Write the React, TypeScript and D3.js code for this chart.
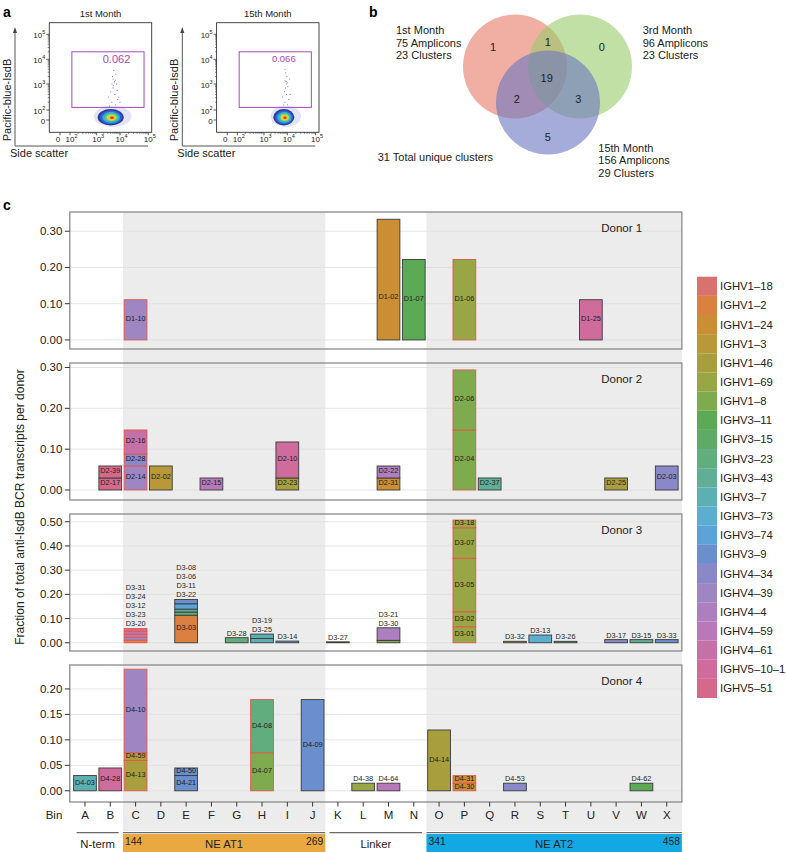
import React from "react";
import * as d3 from "d3";

// ---------------- DATA ----------------
const bins = "ABCDEFGHIJKLMNOPQRSTUVWX".split("");

const genes = [
  "IGHV1-18", "IGHV1-2", "IGHV1-24", "IGHV1-3", "IGHV1-46", "IGHV1-69", "IGHV1-8",
  "IGHV3-11", "IGHV3-15", "IGHV3-23", "IGHV3-43", "IGHV3-7", "IGHV3-73", "IGHV3-74",
  "IGHV3-9", "IGHV4-34", "IGHV4-39", "IGHV4-4", "IGHV4-59", "IGHV4-61", "IGHV5-10-1", "IGHV5-51",
];
const geneColors = [
  "#d9716f", "#da8040", "#ca8e35", "#b9983a", "#a99e3d", "#98a646", "#7eab4e",
  "#5caa56", "#5dab66", "#61ad7d", "#61ae96", "#5db0b2", "#5baed0", "#5ca3d8",
  "#6a8fcc", "#8a88c8", "#9d86c2", "#ad7fbf", "#b978b9", "#c670a8", "#cf6c9c", "#d4698a",
];

type Seg = { bin: string; id: string; gene: string; value: number; red?: boolean; above?: boolean; labelAt?: number };

const donor1: Seg[] = [
  { bin: "C", id: "D1-10", gene: "IGHV4-39", value: 0.111, red: true },
  { bin: "M", id: "D1-02", gene: "IGHV1-24", value: 0.333, labelAt: 0.116 },
  { bin: "N", id: "D1-07", gene: "IGHV3-11", value: 0.222 },
  { bin: "P", id: "D1-06", gene: "IGHV1-69", value: 0.222, red: true },
  { bin: "U", id: "D1-25", gene: "IGHV5-10-1", value: 0.111 },
];

const donor2: Seg[] = [
  { bin: "B", id: "D2-17", gene: "IGHV5-51", value: 0.0294 },
  { bin: "B", id: "D2-39", gene: "IGHV5-51", value: 0.0294 },
  { bin: "C", id: "D2-14", gene: "IGHV4-39", value: 0.0588, red: true },
  { bin: "C", id: "D2-28", gene: "IGHV4-34", value: 0.0294, red: true },
  { bin: "C", id: "D2-16", gene: "IGHV4-61", value: 0.0588, red: true },
  { bin: "D", id: "D2-02", gene: "IGHV1-3", value: 0.0588 },
  { bin: "F", id: "D2-15", gene: "IGHV4-59", value: 0.0294 },
  { bin: "I", id: "D2-23", gene: "IGHV1-46", value: 0.0294 },
  { bin: "I", id: "D2-10", gene: "IGHV5-10-1", value: 0.0882 },
  { bin: "M", id: "D2-31", gene: "IGHV1-24", value: 0.0294 },
  { bin: "M", id: "D2-22", gene: "IGHV4-4", value: 0.0294 },
  { bin: "P", id: "D2-04", gene: "IGHV1-8", value: 0.147, red: true },
  { bin: "P", id: "D2-06", gene: "IGHV1-8", value: 0.147, red: true },
  { bin: "Q", id: "D2-37", gene: "IGHV3-43", value: 0.0294 },
  { bin: "V", id: "D2-25", gene: "IGHV1-46", value: 0.0294 },
  { bin: "X", id: "D2-03", gene: "IGHV4-34", value: 0.0588 },
];

const donor3: Seg[] = [
  { bin: "C", id: "D3-20", gene: "IGHV1-2", value: 0.011, red: true, above: true },
  { bin: "C", id: "D3-23", gene: "IGHV4-39", value: 0.012, red: true, above: true },
  { bin: "C", id: "D3-12", gene: "IGHV4-4", value: 0.012, red: true, above: true },
  { bin: "C", id: "D3-24", gene: "IGHV4-61", value: 0.012, red: true, above: true },
  { bin: "C", id: "D3-31", gene: "IGHV5-51", value: 0.012, red: true, above: true },
  { bin: "E", id: "D3-03", gene: "IGHV1-2", value: 0.114 },
  { bin: "E", id: "D3-22", gene: "IGHV3-23", value: 0.013, above: true },
  { bin: "E", id: "D3-11", gene: "IGHV3-43", value: 0.012, above: true },
  { bin: "E", id: "D3-06", gene: "IGHV3-74", value: 0.022, above: true },
  { bin: "E", id: "D3-08", gene: "IGHV3-9", value: 0.018, above: true },
  { bin: "G", id: "D3-28", gene: "IGHV3-23", value: 0.021, above: true },
  { bin: "H", id: "D3-25", gene: "IGHV3-7", value: 0.018, above: true },
  { bin: "H", id: "D3-19", gene: "IGHV3-7", value: 0.018, above: true },
  { bin: "I", id: "D3-14", gene: "IGHV3-9", value: 0.007, above: true },
  { bin: "K", id: "D3-27", gene: "IGHV1-46", value: 0.004, above: true },
  { bin: "M", id: "D3-30", gene: "IGHV1-8", value: 0.010, above: true },
  { bin: "M", id: "D3-21", gene: "IGHV4-4", value: 0.052, above: true },
  { bin: "P", id: "D3-01", gene: "IGHV1-69", value: 0.066, red: true },
  { bin: "P", id: "D3-02", gene: "IGHV1-69", value: 0.062, red: true },
  { bin: "P", id: "D3-05", gene: "IGHV1-69", value: 0.221, red: true },
  { bin: "P", id: "D3-07", gene: "IGHV1-69", value: 0.126, red: true },
  { bin: "P", id: "D3-18", gene: "IGHV1-69", value: 0.032, red: true },
  { bin: "R", id: "D3-32", gene: "IGHV1-24", value: 0.006, above: true },
  { bin: "S", id: "D3-13", gene: "IGHV3-73", value: 0.032, above: true },
  { bin: "T", id: "D3-26", gene: "IGHV3-15", value: 0.006, above: true },
  { bin: "V", id: "D3-17", gene: "IGHV4-34", value: 0.013, above: true },
  { bin: "W", id: "D3-15", gene: "IGHV3-43", value: 0.013, above: true },
  { bin: "X", id: "D3-33", gene: "IGHV3-9", value: 0.013, above: true },
];

const donor4: Seg[] = [
  { bin: "A", id: "D4-03", gene: "IGHV3-7", value: 0.0299 },
  { bin: "B", id: "D4-28", gene: "IGHV5-10-1", value: 0.0448 },
  { bin: "C", id: "D4-13", gene: "IGHV1-46", value: 0.0597, red: true },
  { bin: "C", id: "D4-59", gene: "IGHV1-3", value: 0.0149, red: true },
  { bin: "C", id: "D4-10", gene: "IGHV4-39", value: 0.1642, red: true },
  { bin: "E", id: "D4-21", gene: "IGHV3-9", value: 0.0299 },
  { bin: "E", id: "D4-50", gene: "IGHV3-9", value: 0.0149 },
  { bin: "H", id: "D4-07", gene: "IGHV1-8", value: 0.0746, red: true },
  { bin: "H", id: "D4-08", gene: "IGHV3-23", value: 0.1045, red: true },
  { bin: "J", id: "D4-09", gene: "IGHV3-9", value: 0.1791 },
  { bin: "L", id: "D4-38", gene: "IGHV1-69", value: 0.0149, above: true },
  { bin: "M", id: "D4-64", gene: "IGHV4-59", value: 0.0149, above: true },
  { bin: "O", id: "D4-14", gene: "IGHV1-46", value: 0.1194 },
  { bin: "P", id: "D4-30", gene: "IGHV1-24", value: 0.0149, red: true },
  { bin: "P", id: "D4-31", gene: "IGHV1-24", value: 0.0149, red: true },
  { bin: "R", id: "D4-53", gene: "IGHV4-34", value: 0.0149, above: true },
  { bin: "W", id: "D4-62", gene: "IGHV3-11", value: 0.0149, above: true },
];

const donors = [donor1, donor2, donor3, donor4];
const donorNames = ["Donor 1", "Donor 2", "Donor 3", "Donor 4"];
const donorDomains: [number, number][] = [[-0.025, 0.353], [-0.0245, 0.311], [-0.034, 0.532], [-0.022, 0.247]];
const donorTicks = [[0, 0.1, 0.2, 0.3], [0, 0.1, 0.2, 0.3], [0, 0.1, 0.2, 0.3, 0.4, 0.5], [0, 0.05, 0.1, 0.15, 0.2]];

const shadedRanges: [string, string][] = [["C", "J"], ["O", "X"]];

const domains = [
  { label: "N-term", from: "A", to: "B", color: "", start: "", end: "" },
  { label: "NE AT1", from: "C", to: "J", color: "#e9a940", start: "144", end: "269" },
  { label: "Linker", from: "K", to: "N", color: "", start: "", end: "" },
  { label: "NE AT2", from: "O", to: "X", color: "#12a8e4", start: "341", end: "458" },
];

// Venn
const vennSets = [
  { name: "1st Month", amplicons: 75, clusters: 23 },
  { name: "3rd Month", amplicons: 96, clusters: 23 },
  { name: "15th Month", amplicons: 156, clusters: 29 },
];
const vennCounts = { a: 1, ab: 1, b: 0, abc: 19, ac: 2, bc: 3, c: 5 };
const totalUnique = 31;

// Flow cytometry
const flowTitles = ["1st Month", "15th Month"];
const flowGates = ["0.062", "0.066"];
const flowBlobCenters: [number, number][] = [[3.6, 0.55], [3.85, 0.55]];
const flowEvents1: [number, number][] = [
  [3.7, 3.2], [3.75, 3.05], [3.8, 3.15], [3.72, 2.95], [3.68, 3.3], [3.85, 3.0], [3.6, 2.7], [3.78, 2.6],
  [3.9, 2.4], [3.65, 2.3], [3.8, 2.2], [3.95, 2.5], [3.7, 2.85], [3.82, 3.4], [3.5, 2.5], [4.0, 2.3],
  [3.88, 2.75], [3.73, 3.55], [3.76, 3.1], [3.66, 3.0], [4.1, 2.1], [3.55, 2.15],
];
const flowEvents2: [number, number][] = [
  [3.95, 3.1], [4.0, 3.05], [3.9, 3.15], [3.98, 3.3], [3.93, 3.45], [4.02, 2.9], [3.88, 2.7], [3.97, 2.6],
  [4.05, 2.4], [3.9, 2.3], [3.85, 2.2], [4.0, 2.2], [3.92, 2.85], [4.08, 3.2], [3.8, 2.5], [4.1, 2.6],
  [3.96, 3.0], [3.9, 3.6],
];
const flowEvents = [flowEvents1, flowEvents2];

// ---------------- LAYOUT ----------------
const FONT = "'Liberation Sans', Arial, Helvetica, sans-serif";
const W = 786, H = 852;
const plotL = 69.8, plotR = 681.9;
const panelTops = [212, 363, 514, 665];
const panelH = 137;
const shadeTop = 212, shadeBottom = 831;

const xPoint = d3.scalePoint<string>().domain(bins).range([plotL, plotR]).padding(0.6);
const step = xPoint.step();
const barW = step * 0.9;
const colorScale = d3.scaleOrdinal<string, string>().domain(genes).range(geneColors);

function stackDonor(segs: Seg[]) {
  const cum: Record<string, number> = {};
  return segs.map((s) => {
    const y0 = cum[s.bin] || 0;
    const y1 = y0 + s.value;
    cum[s.bin] = y1;
    return { ...s, y0, y1 };
  });
}

function DonorPanel({ idx }: { idx: number }) {
  const top = panelTops[idx];
  const y = d3.scaleLinear().domain(donorDomains[idx]).range([top + panelH, top]);
  const stacked = stackDonor(donors[idx]);
  const totals: Record<string, number> = {};
  stacked.forEach((s) => (totals[s.bin] = Math.max(totals[s.bin] || 0, s.y1)));
  const aboveCount: Record<string, number> = {};
  const fmt = d3.format(".2f");
  return (
    <g>
      {donorTicks[idx].map((t) => (
        <line key={"g" + t} x1={plotL} x2={plotR} y1={y(t)} y2={y(t)} stroke="#dedede" strokeWidth={0.8} />
      ))}
      {stacked.map((s) => {
        const cx = xPoint(s.bin)!;
        return (
          <rect key={s.id} x={cx - barW / 2} width={barW} y={y(s.y1)} height={Math.max(0.6, y(s.y0) - y(s.y1))}
            fill={colorScale(s.gene)} stroke={s.red ? "#e0584c" : "#3a3a3a"} strokeWidth={0.9} />
        );
      })}
      {stacked.map((s) => {
        const cx = xPoint(s.bin)!;
        let ly: number;
        if (s.above) {
          const k = aboveCount[s.bin] || 0;
          aboveCount[s.bin] = k + 1;
          ly = y(totals[s.bin]) - 4.5 - k * 9.2;
        } else {
          const v = s.labelAt !== undefined ? s.labelAt : (s.y0 + s.y1) / 2;
          ly = y(v) - 1;
        }
        return (
          <text key={"t" + s.id} x={cx} y={ly} fontSize={7.3} textAnchor="middle" dominantBaseline="central" fill="#1e1e1e">
            {s.id}
          </text>
        );
      })}
      <rect x={plotL} y={top} width={plotR - plotL} height={panelH} fill="none" stroke="#8a8a8a" strokeWidth={1.3} />
      {donorTicks[idx].map((t) => (
        <g key={"t" + t}>
          <line x1={plotL - 5} x2={plotL} y1={y(t)} y2={y(t)} stroke="#333" strokeWidth={1} />
          <text x={plotL - 7.5} y={y(t)} fontSize={11.5} textAnchor="end" dominantBaseline="central" fill="#222">
            {fmt(t)}
          </text>
        </g>
      ))}
      <text x={621.7} y={top + 16} fontSize={11.5} textAnchor="middle" dominantBaseline="central" fill="#222">
        {donorNames[idx]}
      </text>
    </g>
  );
}

function FlowPlot({ i }: { i: number }) {
  const ox = i * 167.3;
  const xs = d3.scaleLinear().domain([0, 2, 3, 4, 5]).range([60, 70, 96.7, 120, 148.3].map((v) => v + ox));
  const ys = d3.scaleLinear().domain([0, 2, 3, 4, 5]).range([120, 110, 84, 59.3, 34.3]);
  const fl = 49.3 + ox, fr = 151.7 + ox, ft = 22.7, fb = 132.3;
  const majors = [0, 2, 3, 4, 5];
  const minors: number[] = [];
  [2, 3, 4].forEach((d) => { for (let k = 2; k <= 9; k++) minors.push(d + Math.log10(k)); });
  const [bx, by] = flowBlobCenters[i];
  const cx = xs(bx), cy = ys(by);
  const rx = i === 0 ? 13 : 10.5, ry = 8.2;
  const layers: [number, string][] = [
    [1.0, "#2c3c9c"], [0.84, "#2f63d2"], [0.68, "#34a9df"], [0.53, "#4ec98c"], [0.39, "#bfe040"], [0.27, "#f2bf2e"], [0.15, "#e33a1f"],
  ];
  const lab = (d: number) =>
    d === 0 ? <tspan>0</tspan> : <><tspan>10</tspan><tspan dy={-3} fontSize={5.5}>{d}</tspan></>;
  return (
    <g fontFamily={FONT}>
      <text x={(fl + fr) / 2} y={13.5} fontSize={9.5} textAnchor="middle" dominantBaseline="central" fill="#222">{flowTitles[i]}</text>
      <line x1={15 + ox} x2={15 + ox} y1={146} y2={30} stroke="#444" strokeWidth={0.9} />
      <path d={`M${15 + ox - 2},${33} L${15 + ox},${27} L${15 + ox + 2},${33} Z`} fill="#444" />
      <line x1={15 + ox} x2={148 + ox} y1={146} y2={146} stroke="#444" strokeWidth={0.9} />
      <text transform={`translate(${7 + ox},${100}) rotate(-90)`} fontSize={11} textAnchor="middle" dominantBaseline="central" fill="#222">Pacific-blue-IsdB</text>
      <text x={10 + ox} y={153} fontSize={11} dominantBaseline="central" fill="#222">Side scatter</text>
      <rect x={fl} y={ft} width={fr - fl} height={fb - ft} fill="#fff" stroke="#333" strokeWidth={0.9} />
      <ellipse cx={cx + 2} cy={cy - 1} rx={rx * 1.45} ry={ry * 1.3} fill="#5a6cc4" opacity={0.18} />
      {flowEvents[i].map(([ex, ey], k) => (
        <circle key={k} cx={xs(ex)} cy={ys(ey)} r={0.55} fill="#3848a8" opacity={0.75} />
      ))}
      {layers.map(([s, c], k) => (
        <ellipse key={k} cx={cx + (1 - s) * 1.5} cy={cy + (1 - s) * 0.5} rx={rx * s} ry={ry * s} fill={c} />
      ))}
      <rect x={xs(2.07)} y={ys(4.3)} width={xs(4.85) - xs(2.07)} height={ys(2.1) - ys(4.3)} fill="none" stroke="#a44ab6" strokeWidth={1} />
      <text x={xs(3.85)} y={ys(4.02)} fontSize={i === 0 ? 11 : 9.5} textAnchor="middle" dominantBaseline="central" fill="#a44ab6">{flowGates[i]}</text>
      {majors.map((d) => (
        <g key={"y" + d}>
          <line x1={fl - 3} x2={fl} y1={ys(d)} y2={ys(d)} stroke="#333" strokeWidth={0.8} />
          <text x={fl - 4} y={ys(d) + 1} fontSize={8} textAnchor="end" dominantBaseline="central" fill="#222">{lab(d)}</text>
          <line x1={xs(d)} x2={xs(d)} y1={fb} y2={fb + 3} stroke="#333" strokeWidth={0.8} />
          <text x={xs(d) + (d === 0 ? -2 : 1.5)} y={fb + 7} fontSize={8} textAnchor="middle" dominantBaseline="central" fill="#222">{lab(d)}</text>
        </g>
      ))}
      {minors.map((d, k) => (
        <g key={"m" + k}>
          <line x1={fl - 1.6} x2={fl} y1={ys(d)} y2={ys(d)} stroke="#333" strokeWidth={0.6} />
          <line x1={xs(d)} x2={xs(d)} y1={fb} y2={fb + 1.6} stroke="#333" strokeWidth={0.6} />
        </g>
      ))}
    </g>
  );
}

function Venn() {
  const circles = [
    { cx: 515, cy: 66.5, fill: "#e87a66" },
    { cx: 580, cy: 66.5, fill: "#98cc6a" },
    { cx: 548, cy: 102.5, fill: "#6a74c0" },
  ];
  const r = 52;
  const counts: [number, number, number][] = [
    [493, 46.7, vennCounts.a], [547.7, 41.7, vennCounts.ab], [601.7, 46.7, vennCounts.b],
    [546.7, 78.3, vennCounts.abc], [516.7, 99.3, vennCounts.ac], [578.3, 99.3, vennCounts.bc], [547.7, 136.7, vennCounts.c],
  ];
  const textPos: [number, number][] = [[396, 30], [642.7, 30], [598.3, 147.7]];
  return (
    <g fontFamily={FONT}>
      {circles.map((c, i) => (
        <circle key={i} cx={c.cx} cy={c.cy} r={r} fill={c.fill} fillOpacity={0.6} />
      ))}
      {counts.map(([x, y, n], i) => (
        <text key={i} x={x} y={y} fontSize={11} textAnchor="middle" dominantBaseline="central" fill="#222">{n}</text>
      ))}
      {vennSets.map((s, i) => (
        <g key={i}>
          {[s.name, `${s.amplicons} Amplicons`, `${s.clusters} Clusters`].map((t, k) => (
            <text key={k} x={textPos[i][0]} y={textPos[i][1] + k * 12.7} fontSize={11} dominantBaseline="central" fill="#222">{t}</text>
          ))}
        </g>
      ))}
      <text x={377.7} y={157.3} fontSize={11} dominantBaseline="central" fill="#222">{`${totalUnique} Total unique clusters`}</text>
    </g>
  );
}

export default function App() {
  const legendTop = 276.7, legendItemH = 19.15;
  return (
    <svg width={W} height={H} viewBox={`0 0 ${W} ${H}`} style={{ position: "absolute", left: 0, top: 0, background: "#fff" }} fontFamily={FONT}>
      <rect x={0} y={0} width={W} height={H} fill="#fff" />
      <text x={3} y={12} fontSize={14} fontWeight="bold" dominantBaseline="central">a</text>
      <text x={369} y={12} fontSize={14} fontWeight="bold" dominantBaseline="central">b</text>
      <text x={3} y={205} fontSize={14} fontWeight="bold" dominantBaseline="central">c</text>
      <FlowPlot i={0} />
      <FlowPlot i={1} />
      <Venn />
      {shadedRanges.map(([a, b], i) => {
        const x0 = xPoint(a)! - step / 2;
        const x1 = b === bins[bins.length - 1] ? plotR : xPoint(b)! + step / 2;
        return <rect key={i} x={x0} y={shadeTop} width={x1 - x0} height={shadeBottom - shadeTop} fill="#ececec" />;
      })}
      {[0, 1, 2, 3].map((i) => <DonorPanel key={i} idx={i} />)}
      <text transform={`translate(20,507) rotate(-90)`} fontSize={12} textAnchor="middle" dominantBaseline="central" fill="#222">
        Fraction of total anti-IsdB BCR transcripts per donor
      </text>
      {bins.map((b) => (
        <g key={b}>
          <line x1={xPoint(b)} x2={xPoint(b)} y1={panelTops[3] + panelH} y2={panelTops[3] + panelH + 4.5} stroke="#333" strokeWidth={1} />
          <text x={xPoint(b)} y={815} fontSize={11.5} textAnchor="middle" dominantBaseline="central" fill="#222">{b}</text>
        </g>
      ))}
      <text x={54} y={815} fontSize={11.5} textAnchor="middle" dominantBaseline="central" fill="#222">Bin</text>
      {domains.map((d, i) => {
        const colored = !!d.color;
        const x0 = colored ? xPoint(d.from)! - step / 2 : xPoint(d.from)! - step * 0.33;
        const x1 = colored ? (d.to === "X" ? plotR : xPoint(d.to)! + step / 2) : xPoint(d.to)! + step * 0.33;
        return (
          <g key={i}>
            {colored && <rect x={x0} y={834} width={x1 - x0} height={H - 834} fill={d.color} />}
            <line x1={x0} x2={x1} y1={832.6} y2={832.6} stroke="#6a6a6a" strokeWidth={1.4} />
            <text x={(x0 + x1) / 2} y={843.5} fontSize={11.3} textAnchor="middle" dominantBaseline="central" fill="#222">{d.label}</text>
            {d.start && <text x={x0 + 2} y={841.5} fontSize={10.3} dominantBaseline="central" fill="#222">{d.start}</text>}
            {d.end && <text x={x1 - 2} y={841.5} fontSize={10.3} textAnchor="end" dominantBaseline="central" fill="#222">{d.end}</text>}
          </g>
        );
      })}
      {genes.map((g, i) => (
        <g key={g}>
          <rect x={697} y={legendTop + i * legendItemH} width={20} height={legendItemH} fill={colorScale(g)} />
          <text x={720} y={legendTop + i * legendItemH + legendItemH / 2} fontSize={11.3} dominantBaseline="central" fill="#222">
            {g.replace(/-/g, "–")}
          </text>
        </g>
      ))}
    </svg>
  );
}
